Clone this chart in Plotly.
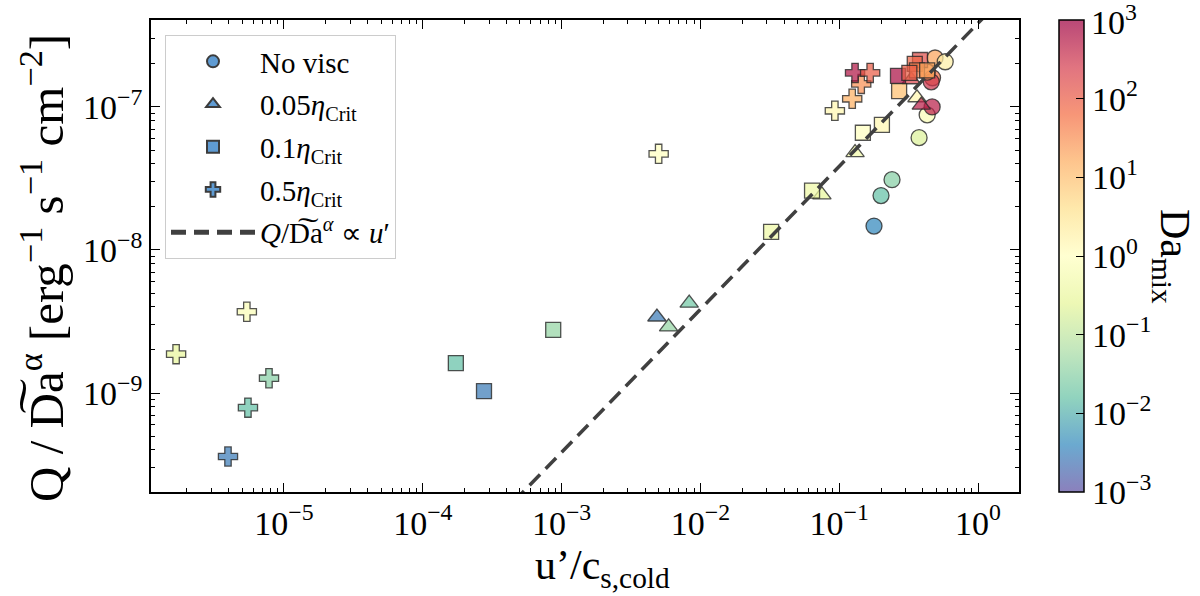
import numpy as np
import plotly.graph_objects as go

# ---------------- data ----------------
# No viscosity (circles)
novisc_u = [0.178, 0.20, 0.24, 0.376, 0.43, 0.467, 0.49, 0.58, 0.47, 0.46, 0.43]
novisc_q = [1.47e-8, 2.4e-8, 3.1e-8, 6.1e-8, 8.8e-8, 1.0e-7, 2.2e-7, 2.07e-7, 1.6e-7, 1.5e-7, 1.75e-7]
novisc_da = [0.004, 0.015, 0.03, 0.2, 0.7, 500, 20, 2, 60, 300, 30]

# 0.05 eta_crit (triangles)
v005_u = [4.86e-3, 5.9e-3, 8.3e-3, 0.075, 0.13, 0.363, 0.39, 0.33]
v005_q = [3.4e-9, 2.9e-9, 4.25e-9, 2.43e-8, 4.8e-8, 1.16e-7, 1.03e-7, 1.55e-7]
v005_da = [0.003, 0.04, 0.02, 0.3, 0.5, 1.5, 500, 200]

# 0.1 eta_crit (squares)
v01_u = [1.73e-4, 2.76e-4, 8.7e-4, 0.0323, 0.0637, 0.148, 0.203, 0.265, 0.27, 0.382, 0.35, 0.363, 0.43, 0.32]
v01_q = [1.62e-9, 1.03e-9, 2.76e-9, 1.34e-8, 2.6e-8, 6.6e-8, 7.5e-8, 1.65e-7, 1.29e-7, 2.13e-7, 2.0e-7, 1.8e-7, 1.8e-7, 1.73e-7]
v01_da = [0.015, 0.003, 0.04, 0.4, 0.4, 1.0, 1.5, 700, 10, 150, 80, 40, 20, 100]

# 0.5 eta_crit (crosses)
v05_u = [1.67e-6, 3.95e-6, 5.4e-6, 5.5e-6, 7.8e-6, 5.0e-3, 0.093, 0.124, 0.144, 0.13, 0.167]
v05_q = [1.87e-9, 3.6e-10, 3.7e-9, 7.9e-10, 1.27e-9, 4.7e-8, 9.4e-8, 1.14e-7, 1.45e-7, 1.73e-7, 1.73e-7]
v05_da = [0.3, 0.003, 0.7, 0.015, 0.03, 1.0, 1.5, 15, 30, 600, 100]

# reference scaling Q/Da^alpha ∝ u'
fit_coeff = 3.85e-7
fit_u = [1e-6, 3.0]

x_major = [1e-5, 1e-4, 1e-3, 1e-2, 1e-1, 1e0]
x_major_text = ["10<sup>−5</sup>", "10<sup>−4</sup>", "10<sup>−3</sup>", "10<sup>−2</sup>", "10<sup>−1</sup>", "10<sup>0</sup>"]
y_major = [1e-9, 1e-8, 1e-7]
y_major_text = ["10<sup>−9</sup>", "10<sup>−8</sup>", "10<sup>−7</sup>"]
cb_vals = [-3, -2, -1, 0, 1, 2, 3]
cb_text = ["10<sup>−3</sup>", "10<sup>−2</sup>", "10<sup>−1</sup>", "10<sup>0</sup>",
           "10<sup>1</sup>", "10<sup>2</sup>", "10<sup>3</sup>"]

# ---------------- styling ----------------
FONT = "Liberation Serif"
spectral = ['rgb(158,1,66)', 'rgb(213,62,79)', 'rgb(244,109,67)', 'rgb(253,174,97)',
            'rgb(254,224,139)', 'rgb(255,255,191)', 'rgb(230,245,152)', 'rgb(171,221,164)',
            'rgb(102,194,165)', 'rgb(50,136,189)', 'rgb(94,79,162)']
alpha = 0.72
cols = list(reversed(spectral))
cscale = []
for i, c in enumerate(cols):
    r, g, b = [int(v) for v in c[4:-1].split(',')]
    cscale.append([i / (len(cols) - 1), f"rgba({r},{g},{b},{alpha})"])

edge = dict(color="rgba(40,40,40,0.8)", width=1.3)

fig = go.Figure()

series = [
    (novisc_u, novisc_q, novisc_da, "circle", 16),
    (v005_u, v005_q, v005_da, "triangle-up", 16),
    (v01_u, v01_q, v01_da, "square", 15),
    (v05_u, v05_q, v05_da, "cross", 16),
]
for u, q, da, sym, sz in series:
    fig.add_trace(go.Scatter(
        x=u, y=q, mode="markers", showlegend=False,
        marker=dict(symbol=sym, size=sz, color=np.log10(da), coloraxis="coloraxis", line=edge),
    ))

# legend-only entries
leg_names = ["No visc", "0.05<i>η</i><sub>Crit</sub>", "0.1<i>η</i><sub>Crit</sub>", "0.5<i>η</i><sub>Crit</sub>"]
leg_syms = ["circle", "triangle-up", "square", "cross"]
for i, (nm, sym) in enumerate(zip(leg_names, leg_syms)):
    fig.add_trace(go.Scatter(
        x=[None], y=[None], mode="markers", name=nm, legendgroup=f"g{i}",
        marker=dict(symbol=sym, size=15, color="rgb(95,155,210)", line=dict(color="rgb(60,60,60)", width=1)),
    ))

fit_q = [fit_coeff * v for v in fit_u]
fig.add_trace(go.Scatter(
    x=fit_u, y=fit_q, mode="lines", legendgroup="g4",
    name="<i>Q</i>/D\u0360a<sup><i>α</i></sup> ∝ <i>u</i>′",
    line=dict(color="rgb(64,64,64)", width=3.5, dash="15px,8px"),
))

def minor_vals(lo, hi):
    out = []
    for n in range(lo, hi):
        for k in range(2, 10):
            out.append(k * 10.0 ** n)
    return out

axis_common = dict(
    type="log", showline=True, linecolor="black", linewidth=1.5, mirror="ticks",
    ticks="inside", ticklen=9, tickwidth=1.3, tickcolor="black", showgrid=False, zeroline=False,
    tickfont=dict(family=FONT, size=34, color="black"),
)

fig.update_xaxes(
    range=[-5.958, 0.295], tickmode="array", tickvals=x_major, ticktext=x_major_text,
    minor=dict(tickmode="array", tickvals=minor_vals(-6, 1), ticks="inside", ticklen=4.5,
               tickwidth=1, tickcolor="black", showgrid=False),
    **axis_common,
)
fig.update_yaxes(
    range=[-9.692, -6.392], tickmode="array", tickvals=y_major, ticktext=y_major_text,
    minor=dict(tickmode="array", tickvals=minor_vals(-10, -6), ticks="inside", ticklen=4.5,
               tickwidth=1, tickcolor="black", showgrid=False),
    **axis_common,
)

L, R, T, B = 151, 1019, 20, 492
W, H = 1200, 596
cb_left = 1059

fig.update_layout(
    width=W, height=H,
    margin=dict(l=L, r=W - R, t=T, b=H - B),
    plot_bgcolor="white", paper_bgcolor="white",
    font=dict(family=FONT, color="black"),
    coloraxis=dict(
        cmin=cb_vals[0], cmax=cb_vals[-1], colorscale=cscale,
        colorbar=dict(
            x=(cb_left - L) / (R - L), xanchor="left", xpad=0, ypad=0,
            y=0.5, yanchor="middle", len=1.0, lenmode="fraction",
            thickness=25, outlinewidth=1.5, outlinecolor="black",
            tickmode="array", tickvals=cb_vals[:-1], ticktext=cb_text[:-1],
            ticks="inside", ticklen=8, tickwidth=1.3, tickcolor="black",
            tickfont=dict(family=FONT, size=34, color="black"),
        ),
    ),
    legend=dict(
        x=(165 - L) / (R - L), y=(B - 35) / (B - T), xanchor="left", yanchor="top",
        bgcolor="rgba(255,255,255,0.85)", bordercolor="#cccccc", borderwidth=1,
        font=dict(family=FONT, size=29, color="black"),
        tracegroupgap=2, itemsizing="constant", itemwidth=84,
    ),
    annotations=[
        dict(text="Q / D\u0360a<sup>α</sup> [erg<sup>−1</sup> s<sup>−1</sup> cm<sup>−2</sup>]",
             xref="paper", yref="paper", x=(42 - L) / (R - L), y=(B - 268) / (B - T),
             xanchor="center", yanchor="middle", textangle=-90, showarrow=False,
             font=dict(family=FONT, size=49, color="black")),
        dict(text="u’/c<sub>s,cold</sub>",
             xref="paper", yref="paper", x=(602 - L) / (R - L), y=(B - 568) / (B - T),
             xanchor="center", yanchor="middle", showarrow=False,
             font=dict(family=FONT, size=42, color="black")),
        dict(text="Da<sub>mix</sub>",
             xref="paper", yref="paper", x=(1172 - L) / (R - L), y=(B - 256) / (B - T),
             xanchor="center", yanchor="middle", textangle=90, showarrow=False,
             font=dict(family=FONT, size=42, color="black")),
        # top colorbar label (plotly drops the end-of-bar label)
        dict(text=cb_text[-1], xref="paper", yref="paper",
             x=(cb_left + 25 + 5 - L) / (R - L), y=1.0,
             xanchor="left", yanchor="middle", showarrow=False,
             font=dict(family=FONT, size=34, color="black")),
    ],
)

fig.write_html("out.html")
